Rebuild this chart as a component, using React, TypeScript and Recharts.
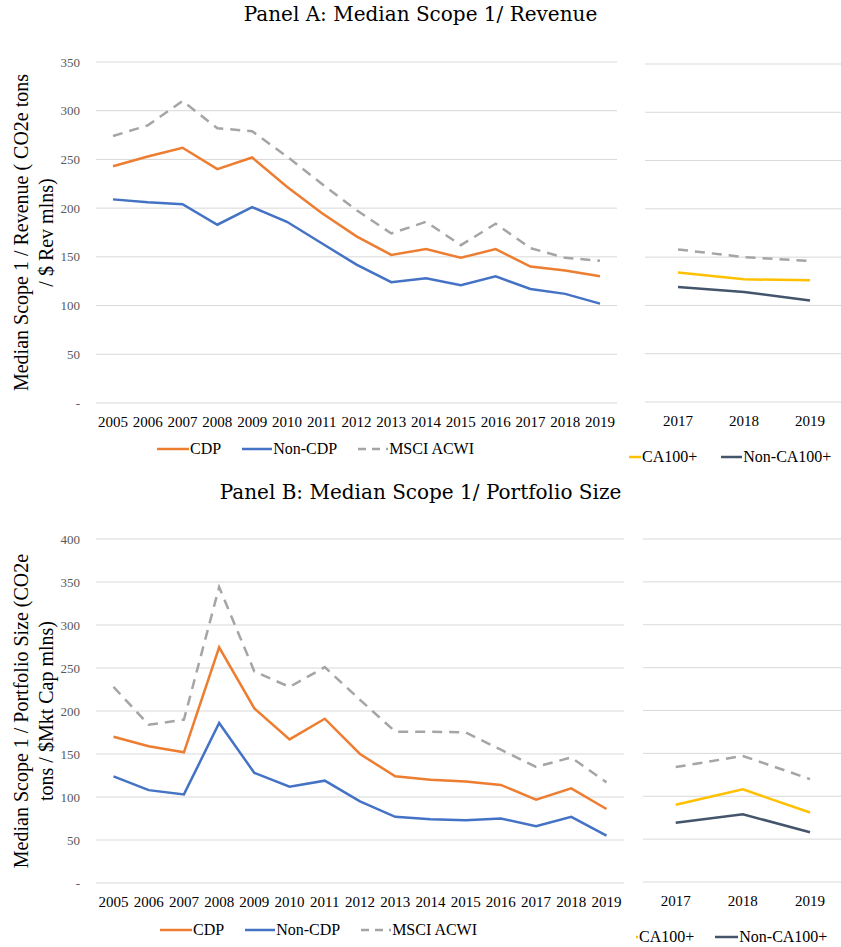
import React from "react"
import { CartesianGrid, Label, Line, LineChart, XAxis, YAxis } from "recharts"

const years = ["2005", "2006", "2007", "2008", "2009", "2010", "2011", "2012", "2013", "2014", "2015", "2016", "2017", "2018", "2019"]
const sideYears = ["2017", "2018", "2019"]

// Panel A: median scope 1 / revenue
const revenueCdp = [243, 253, 262, 240, 252, 222, 195, 171, 152, 158, 149, 158, 140, 136, 130]
const revenueNonCdp = [209, 206, 204, 183, 201, 186, 164, 142, 124, 128, 121, 130, 117, 112, 102]
const revenueMsci = [274, 285, 310, 282, 279, 253, 225, 198, 174, 186, 162, 184, 159, 149, 146]
const revenueCa100 = [134, 127, 126]
const revenueNonCa100 = [119, 114, 105]
const revenueMsciSide = [158, 150, 146]

// Panel B: median scope 1 / portfolio size
const sizeCdp = [170, 159, 152, 274, 203, 167, 191, 150, 124, 120, 118, 114, 97, 110, 86]
const sizeNonCdp = [124, 108, 103, 186, 128, 112, 119, 95, 77, 74, 73, 75, 66, 77, 55]
const sizeMsci = [228, 184, 190, 344, 246, 228, 251, 213, 176, 176, 175, 155, 135, 146, 117]
const sizeCa100 = [90, 108, 81]
const sizeNonCa100 = [69, 79, 58]
const sizeMsciSide = [134, 147, 120]

const revenueTicks = [0, 50, 100, 150, 200, 250, 300, 350]
const sizeTicks = [0, 50, 100, 150, 200, 250, 300, 350, 400]

const ORANGE = "#ED7D31"
const BLUE = "#4472C4"
const GREY = "#A5A5A5"
const GOLD = "#FFC000"
const SLATE = "#44546A"
const DASH = "10 7"
const SERIF = "'Liberation Serif', 'Times New Roman', serif"

const mainData = (cdp: number[], nonCdp: number[], msci: number[]) =>
  years.map((year, i) => ({ year, cdp: cdp[i], nonCdp: nonCdp[i], msci: msci[i] }))

const sideData = (ca: number[], nonCa: number[], msci: number[]) =>
  sideYears.map((year, i) => ({ year, ca: ca[i], nonCa: nonCa[i], msci: msci[i] }))

const yTickStyle = { fill: "#595959", fontSize: 13, fontFamily: SERIF }
const xTickStyle = { fill: "#000", fontSize: 15, fontFamily: SERIF }

function axisTitle(lines: string[]) {
  return (props: any) => {
    const vb = props.viewBox || {}
    const cy = vb.y + vb.height / 2
    return (
      <g>
        {lines.map((line, i) => {
          const x = 28 + i * 25
          return (
            <text
              key={i}
              x={x}
              y={cy}
              transform={`rotate(-90, ${x}, ${cy})`}
              textAnchor="middle"
              fontSize={20}
              fontFamily={SERIF}
              fill="#000"
            >
              {line}
            </text>
          )
        })}
      </g>
    )
  }
}

type MainProps = {
  data: any[]
  top: number
  width: number
  height: number
  margin: { top: number; right: number; left: number; bottom: number }
  ticks: number[]
  pad: number
  title: string[]
}

function MainPanel({ data, top, width, height, margin, ticks, pad, title }: MainProps) {
  return (
    <div style={{ position: "absolute", left: 0, top }}>
      <LineChart width={width} height={height} data={data} margin={margin}>
        <CartesianGrid vertical={false} stroke="#D9D9D9" />
        <XAxis
          dataKey="year"
          interval={0}
          axisLine={false}
          tickLine={false}
          tickMargin={7}
          height={30}
          padding={{ left: pad, right: pad }}
          tick={xTickStyle}
        />
        <YAxis
          width={96}
          domain={[0, ticks[ticks.length - 1]]}
          ticks={ticks}
          interval={0}
          axisLine={false}
          tickLine={false}
          tickMargin={10}
          tick={yTickStyle}
          tickFormatter={(v: number) => (v === 0 ? "-" : String(v))}
        >
          <Label content={axisTitle(title)} />
        </YAxis>
        <Line dataKey="msci" stroke={GREY} strokeWidth={2.5} strokeDasharray={DASH} dot={false} isAnimationActive={false} />
        <Line dataKey="cdp" stroke={ORANGE} strokeWidth={2.5} dot={false} isAnimationActive={false} />
        <Line dataKey="nonCdp" stroke={BLUE} strokeWidth={2.5} dot={false} isAnimationActive={false} />
      </LineChart>
    </div>
  )
}

type SideProps = {
  data: any[]
  left: number
  top: number
  width: number
  height: number
  marginTop: number
  ticks: number[]
  padLeft: number
  padRight: number
}

function SidePanel({ data, left, top, width, height, marginTop, ticks, padLeft, padRight }: SideProps) {
  return (
    <div style={{ position: "absolute", left, top }}>
      <LineChart width={width} height={height} data={data} margin={{ top: marginTop, right: 0, left: 0, bottom: 0 }}>
        <CartesianGrid vertical={false} stroke="#D9D9D9" />
        <XAxis
          dataKey="year"
          interval={0}
          axisLine={false}
          tickLine={false}
          tickMargin={7}
          height={30}
          padding={{ left: padLeft, right: padRight }}
          tick={xTickStyle}
        />
        <YAxis hide domain={[0, ticks[ticks.length - 1]]} ticks={ticks} interval={0} />
        <Line dataKey="msci" stroke={GREY} strokeWidth={2.5} strokeDasharray={DASH} dot={false} isAnimationActive={false} />
        <Line dataKey="ca" stroke={GOLD} strokeWidth={2.5} dot={false} isAnimationActive={false} />
        <Line dataKey="nonCa" stroke={SLATE} strokeWidth={2.5} dot={false} isAnimationActive={false} />
      </LineChart>
    </div>
  )
}

type LegendItem = { name: string; color: string; dash?: string; len: number }

function LegendRow({ items, left, top, gap }: { items: LegendItem[]; left: number; top: number; gap: number }) {
  return (
    <div
      style={{
        position: "absolute",
        left,
        top,
        display: "flex",
        alignItems: "center",
        gap,
        fontFamily: SERIF,
        fontSize: 16,
        lineHeight: "16px",
        whiteSpace: "nowrap",
      }}
    >
      {items.map((it) => (
        <div key={it.name} style={{ display: "flex", alignItems: "center" }}>
          <svg width={it.len} height={4} style={{ display: "block", marginRight: 1 }}>
            <line x1={0} y1={2} x2={it.len} y2={2} stroke={it.color} strokeWidth={2.5} strokeDasharray={it.dash} />
          </svg>
          <span>{it.name}</span>
        </div>
      ))}
    </div>
  )
}

const mainLegend: LegendItem[] = [
  { name: "CDP", color: ORANGE, len: 32 },
  { name: "Non-CDP", color: BLUE, len: 30 },
  { name: "MSCI ACWI", color: GREY, dash: "8 6", len: 30 },
]

function Title({ text, top }: { text: string; top: number }) {
  return (
    <div
      style={{
        position: "absolute",
        left: 0,
        top,
        width: 841,
        textAlign: "center",
        fontFamily: "'DejaVu Serif', serif",
        fontSize: 20,
        lineHeight: "20px",
        color: "#000",
      }}
    >
      {text}
    </div>
  )
}

export default function App() {
  return (
    <div style={{ position: "absolute", left: 0, top: 0, width: 841, height: 947, background: "#fff", overflow: "hidden" }}>
      <Title text="Panel A: Median Scope 1/ Revenue" top={4} />
      <MainPanel
        data={mainData(revenueCdp, revenueNonCdp, revenueMsci)}
        top={0}
        width={630}
        height={433}
        margin={{ top: 62, right: 13, left: 0, bottom: 0 }}
        ticks={revenueTicks}
        pad={17}
        title={["Median Scope 1 / Revenue ( CO2e tons", "/ $ Rev mlns)"]}
      />
      <SidePanel
        data={sideData(revenueCa100, revenueNonCa100, revenueMsciSide)}
        left={645}
        top={0}
        width={196}
        height={432}
        marginTop={64}
        ticks={revenueTicks}
        padLeft={33}
        padRight={31}
      />
      <LegendRow items={mainLegend} left={157} top={441} gap={21} />
      <LegendRow
        items={[
          { name: "CA100+", color: GOLD, len: 12 },
          { name: "Non-CA100+", color: SLATE, len: 21 },
        ]}
        left={629}
        top={449}
        gap={24}
      />

      <Title text="Panel B: Median Scope 1/ Portfolio Size" top={482} />
      <MainPanel
        data={mainData(sizeCdp, sizeNonCdp, sizeMsci)}
        top={480}
        width={630}
        height={433}
        margin={{ top: 59, right: 6, left: 0, bottom: 0 }}
        ticks={sizeTicks}
        pad={17.5}
        title={["Median Scope 1 / Portfolio Size  (CO2e", "tons / $Mkt Cap mlns)"]}
      />
      <SidePanel
        data={sideData(sizeCa100, sizeNonCa100, sizeMsciSide)}
        left={643}
        top={480}
        width={198}
        height={432}
        marginTop={59}
        ticks={sizeTicks}
        padLeft={32.7}
        padRight={31}
      />
      <LegendRow items={mainLegend} left={160} top={922} gap={21} />
      <LegendRow
        items={[
          { name: "CA100+", color: GOLD, len: 2 },
          { name: "Non-CA100+", color: SLATE, len: 23 },
        ]}
        left={636}
        top={929}
        gap={21}
      />
    </div>
  )
}
